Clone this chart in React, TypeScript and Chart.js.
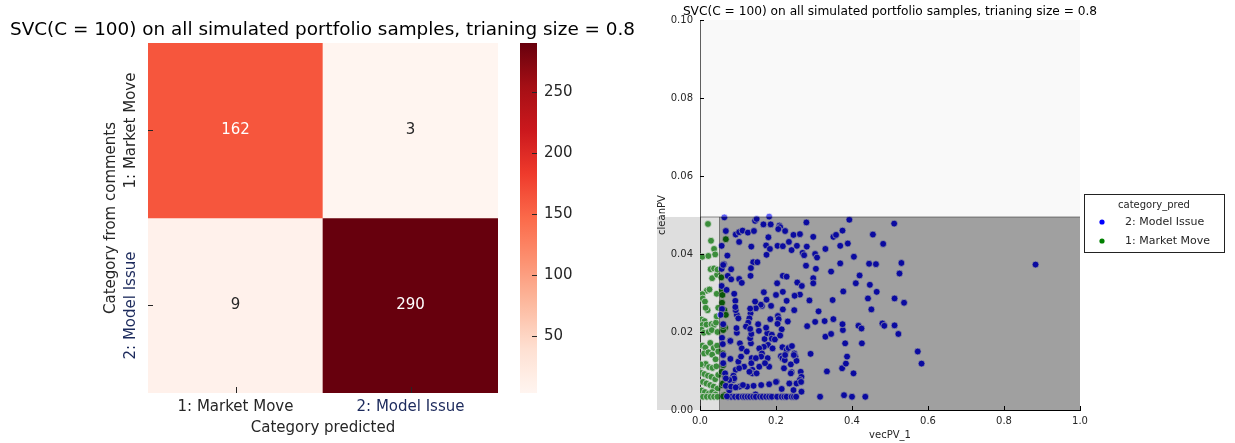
import React, { useEffect, useRef } from 'react';
import { Chart, registerables } from 'chart.js';

Chart.register(...registerables);

const FONT = "'DejaVu Sans', sans-serif";
const INK = '#262626';
const NAVY = '#1c2a5c';

// ---------- left panel: confusion matrix ----------
const heatTitle = 'SVC(C = 100) on all simulated portfolio samples, trianing size = 0.8';
const predictedLabels = ['1: Market Move', '2: Model Issue'];
const actualLabels = ['1: Market Move', '2: Model Issue'];
const countsActualMarketMove = [162, 3];
const countsActualModelIssue = [9, 290];
const colorbarTicks = [50, 100, 150, 200, 250];
const heatXTitle = 'Category predicted';
const heatYTitle = 'Category from comments';

// ---------- right panel: scatter ----------
const scatterTitle = 'SVC(C = 100) on all simulated portfolio samples, trianing size = 0.8';
const scatterXTitle = 'vecPV_1';
const scatterYTitle = 'cleanPV';
const legendTitle = 'category_pred';
const scatterXTicks = [0, 0.2, 0.4, 0.6, 0.8, 1.0];
const scatterYTicks = [0, 0.02, 0.04, 0.06, 0.08, 0.1];
const boundaryVecPV = 0.05;
const boundaryCleanPV = 0.0495;
const seriesLabels = ['2: Model Issue', '1: Market Move'];

const modelIssuePoints: [number, number][] = [
  [0.064, 0.0494], [0.182, 0.0496], [0.145, 0.0485], [0.149, 0.049], [0.167, 0.0476], [0.186, 0.0476], [0.209, 0.0473], [0.211, 0.0469], [0.280, 0.0481], [0.393, 0.0488], [0.511, 0.0478],
  [0.068, 0.0459], [0.094, 0.0450], [0.103, 0.0456], [0.112, 0.0460], [0.126, 0.0455], [0.142, 0.0459], [0.180, 0.0443], [0.206, 0.0464], [0.224, 0.0459], [0.246, 0.0449], [0.263, 0.0451], [0.298, 0.0444], [0.351, 0.0444], [0.358, 0.0449], [0.375, 0.0460], [0.455, 0.0450],
  [0.057, 0.0421], [0.103, 0.0431], [0.135, 0.0419], [0.174, 0.0422], [0.184, 0.0413], [0.204, 0.0421], [0.218, 0.0420], [0.234, 0.0431], [0.241, 0.0410], [0.255, 0.0421], [0.270, 0.0403], [0.274, 0.0397], [0.281, 0.0419], [0.303, 0.0400], [0.308, 0.0391], [0.330, 0.0413], [0.369, 0.0421], [0.389, 0.0427], [0.405, 0.0393], [0.482, 0.0426],
  [0.072, 0.0396], [0.140, 0.0379], [0.151, 0.0379], [0.175, 0.0398], [0.063, 0.0374], [0.082, 0.0361], [0.073, 0.0344], [0.057, 0.0362], [0.134, 0.0364], [0.203, 0.0325], [0.218, 0.0344], [0.228, 0.0342], [0.103, 0.0336], [0.110, 0.0326], [0.082, 0.0335], [0.133, 0.0344], [0.256, 0.0327], [0.268, 0.0318], [0.298, 0.0338], [0.298, 0.0325], [0.305, 0.0362], [0.345, 0.0355], [0.369, 0.0376], [0.410, 0.0325], [0.420, 0.0345], [0.445, 0.0375], [0.463, 0.0374], [0.447, 0.0321], [0.465, 0.0303], [0.442, 0.0286], [0.451, 0.0258], [0.530, 0.0377], [0.525, 0.0350], [0.512, 0.0286], [0.537, 0.0275], [0.883, 0.0373], [0.279, 0.0370],
  [0.377, 0.0304], [0.349, 0.0282], [0.312, 0.0253], [0.288, 0.0281], [0.263, 0.0296], [0.249, 0.0293], [0.248, 0.0256], [0.200, 0.0295], [0.218, 0.0303], [0.218, 0.0258], [0.205, 0.0241], [0.207, 0.0233], [0.204, 0.0221], [0.215, 0.0207], [0.231, 0.0227], [0.185, 0.0233], [0.187, 0.0267], [0.175, 0.0283], [0.168, 0.0302], [0.163, 0.0267], [0.160, 0.0270], [0.147, 0.0261], [0.133, 0.0248], [0.132, 0.0260], [0.145, 0.0278], [0.130, 0.0235], [0.127, 0.0224], [0.121, 0.0214], [0.097, 0.0244], [0.093, 0.0280], [0.090, 0.0298], [0.094, 0.0256], [0.101, 0.0235], [0.097, 0.0198], [0.079, 0.0177], [0.105, 0.0171], [0.110, 0.0158], [0.101, 0.0124], [0.094, 0.0103], [0.088, 0.0088], [0.088, 0.0077], [0.077, 0.0050], [0.104, 0.0060], [0.124, 0.0060], [0.116, 0.0111], [0.123, 0.0150], [0.136, 0.0133], [0.135, 0.0120], [0.138, 0.0103], [0.138, 0.0094], [0.149, 0.0094], [0.156, 0.0111], [0.161, 0.0064], [0.182, 0.0066], [0.182, 0.0111], [0.178, 0.0133], [0.179, 0.0167], [0.191, 0.0158], [0.170, 0.0182], [0.168, 0.0162], [0.156, 0.0158], [0.134, 0.0171], [0.132, 0.0184], [0.135, 0.0195], [0.132, 0.0208], [0.153, 0.0220], [0.155, 0.0203], [0.177, 0.0197], [0.189, 0.0193], [0.189, 0.0183], [0.197, 0.0181], [0.174, 0.0211], [0.217, 0.0161], [0.228, 0.0154], [0.233, 0.0159], [0.242, 0.0164], [0.213, 0.0138], [0.217, 0.0133], [0.223, 0.0128], [0.239, 0.0117], [0.248, 0.0145], [0.251, 0.0137], [0.254, 0.0126], [0.265, 0.0098], [0.267, 0.0085], [0.263, 0.0077], [0.254, 0.0068], [0.235, 0.0068], [0.215, 0.0054], [0.241, 0.0097], [0.202, 0.0073], [0.171, 0.0120], [0.163, 0.0145], [0.161, 0.0137], [0.147, 0.0133], [0.108, 0.0137], [0.103, 0.0107], [0.090, 0.0081], [0.077, 0.0077], [0.130, 0.0098], [0.146, 0.0040],
  [0.224, 0.0141], [0.247, 0.0141], [0.221, 0.0107], [0.239, 0.0094], [0.246, 0.0051], [0.267, 0.0047],
  [0.073, 0.0034], [0.082, 0.0034], [0.092, 0.0034], [0.101, 0.0034], [0.112, 0.0034], [0.118, 0.0034], [0.125, 0.0034], [0.132, 0.0034], [0.140, 0.0034], [0.147, 0.0034], [0.158, 0.0034], [0.165, 0.0034], [0.174, 0.0034], [0.182, 0.0034], [0.189, 0.0034], [0.203, 0.0034], [0.215, 0.0034], [0.222, 0.0034], [0.228, 0.0034], [0.241, 0.0034], [0.247, 0.0034], [0.253, 0.0034], [0.316, 0.0034], [0.379, 0.0038], [0.400, 0.0034], [0.435, 0.0034],
  [0.334, 0.0099], [0.404, 0.0094], [0.374, 0.0107], [0.384, 0.0119], [0.387, 0.0137], [0.382, 0.0171], [0.426, 0.0171], [0.330, 0.0188], [0.345, 0.0195], [0.376, 0.0205], [0.375, 0.0220], [0.417, 0.0216], [0.425, 0.0209], [0.480, 0.0222], [0.485, 0.0216], [0.512, 0.0217], [0.522, 0.0195], [0.573, 0.0150], [0.583, 0.0119], [0.328, 0.0228], [0.351, 0.0233], [0.303, 0.0226], [0.282, 0.0215], [0.291, 0.0144], [0.228, 0.0280], [0.211, 0.0191],
  [0.061, 0.0372], [0.057, 0.0318], [0.058, 0.0259], [0.054, 0.0244], [0.061, 0.0220], [0.058, 0.0185], [0.060, 0.0169], [0.061, 0.0141], [0.061, 0.0120], [0.066, 0.0094], [0.068, 0.0081], [0.071, 0.0060], [0.071, 0.0035], [0.070, 0.0308], [0.093, 0.0264], [0.096, 0.0210], [0.080, 0.0177], [0.080, 0.0131],
  [0.068, 0.0062], [0.082, 0.0060], [0.094, 0.0058], [0.113, 0.0064], [0.141, 0.0062], [0.200, 0.0072], [0.266, 0.0072],
];

const marketMovePoints: [number, number][] = [
  [0.021, 0.0477], [0.029, 0.0434], [0.037, 0.0413], [0.040, 0.0399], [0.006, 0.0393], [0.022, 0.0395], [0.028, 0.0361], [0.037, 0.0363], [0.032, 0.0338], [0.018, 0.0306], [0.025, 0.0309], [0.006, 0.0297], [0.007, 0.0286], [0.013, 0.0278], [0.020, 0.0256], [0.015, 0.0262], [0.004, 0.0232], [0.012, 0.0228], [0.006, 0.0218], [0.017, 0.0219], [0.030, 0.0220], [0.037, 0.0218], [0.042, 0.0224], [0.004, 0.0206], [0.010, 0.0198], [0.023, 0.0200], [0.031, 0.0205], [0.006, 0.0165], [0.014, 0.0160], [0.027, 0.0172], [0.036, 0.0159], [0.045, 0.0165], [0.011, 0.0145], [0.022, 0.0148], [0.032, 0.0142], [0.041, 0.0130], [0.006, 0.0115], [0.015, 0.0118], [0.024, 0.0110], [0.033, 0.0108], [0.043, 0.0112], [0.003, 0.0095], [0.012, 0.0092], [0.021, 0.0088], [0.030, 0.0085], [0.040, 0.0079], [0.008, 0.0072], [0.017, 0.0068], [0.027, 0.0064], [0.036, 0.0060], [0.046, 0.0055], [0.004, 0.0050], [0.013, 0.0046], [0.023, 0.0042], [0.032, 0.0046], [0.041, 0.0040], [0.008, 0.0034], [0.018, 0.0034], [0.028, 0.0034], [0.037, 0.0034], [0.046, 0.0034], [0.002, 0.0117], [0.048, 0.0262], [0.044, 0.0298], [0.045, 0.0347], [0.046, 0.0360], [0.046, 0.0200], [0.044, 0.0240], [0.048, 0.0150], [0.048, 0.0090],
  [0.068, 0.0438], [0.057, 0.0308], [0.059, 0.0295], [0.064, 0.0256], [0.068, 0.0244], [0.066, 0.0211], [0.061, 0.0205], [0.061, 0.0115], [0.057, 0.0098], [0.066, 0.0085], [0.057, 0.0064], [0.064, 0.0038], [0.075, 0.0038], [0.061, 0.0215], [0.060, 0.0145], [0.060, 0.0068], [0.061, 0.0035], [0.056, 0.0340], [0.058, 0.0275],
];

// ---------- colour helpers ----------
const REDS = [
  [255, 245, 240], [254, 224, 210], [252, 187, 161], [252, 146, 114], [251, 106, 74],
  [239, 59, 44], [203, 24, 29], [165, 15, 21], [103, 0, 13],
];
function redsRGB(t: number): number[] {
  const c = Math.max(0, Math.min(1, t)) * (REDS.length - 1);
  const i = Math.min(REDS.length - 2, Math.floor(c));
  const f = c - i;
  const a = REDS[i];
  const b = REDS[i + 1];
  return [0, 1, 2].map((k) => Math.round(a[k] + (b[k] - a[k]) * f));
}
const rgbStr = (c: number[]) => `rgb(${c[0]},${c[1]},${c[2]})`;
function luminance(c: number[]) {
  const lin = c.map((v) => {
    const s = v / 255;
    return s <= 0.03928 ? s / 12.92 : Math.pow((s + 0.055) / 1.055, 2.4);
  });
  return 0.2126 * lin[0] + 0.7152 * lin[1] + 0.0722 * lin[2];
}

const allCounts = [...countsActualMarketMove, ...countsActualModelIssue];
const vmin = Math.min(...allCounts);
const vmax = Math.max(...allCounts);
const countRows = [countsActualMarketMove, countsActualModelIssue];

const labelColor = (label: string) => (label.startsWith('2') ? NAVY : INK);

export default function App() {
  const heatRef = useRef<HTMLCanvasElement>(null);
  const barRef = useRef<HTMLCanvasElement>(null);
  const scatRef = useRef<HTMLCanvasElement>(null);

  useEffect(() => {
    const charts: Chart[] = [];

    // ----- heatmap -----
    const heatPlugin = {
      id: 'heatText',
      afterDatasetsDraw(chart: any) {
        const { ctx, chartArea, scales } = chart;
        ctx.save();
        ctx.textAlign = 'center';
        ctx.textBaseline = 'middle';
        ctx.font = `15px ${FONT}`;
        chart.data.datasets.forEach((ds: any, i: number) => {
          const meta = chart.getDatasetMeta(i);
          meta.data.forEach((el: any, j: number) => {
            const v = ds.counts[j];
            const col = redsRGB((v - vmin) / (vmax - vmin));
            const p = el.getCenterPoint();
            ctx.fillStyle = luminance(col) > 0.408 ? INK : '#ffffff';
            ctx.fillText(String(v), p.x, p.y);
          });
        });
        const ys = scales.y;
        const xs = scales.x;
        ctx.strokeStyle = INK;
        ctx.lineWidth = 1;
        actualLabels.forEach((lab, r) => {
          const level = actualLabels.length - 1 - r;
          const y = ys.getPixelForValue(level + 0.5);
          ctx.save();
          ctx.translate(chartArea.left - 17, y);
          ctx.rotate(-Math.PI / 2);
          ctx.fillStyle = labelColor(lab);
          ctx.fillText(lab, 0, 0);
          ctx.restore();
          ctx.beginPath();
          ctx.moveTo(chartArea.left, Math.round(y) + 0.5);
          ctx.lineTo(chartArea.left + 5, Math.round(y) + 0.5);
          ctx.stroke();
        });
        predictedLabels.forEach((_, i) => {
          const x = Math.round(xs.getPixelForTick(i)) + 0.5;
          ctx.beginPath();
          ctx.moveTo(x, chartArea.bottom);
          ctx.lineTo(x, chartArea.bottom - 6);
          ctx.stroke();
        });
        ctx.restore();
      },
    };

    if (heatRef.current) {
      charts.push(
        new Chart(heatRef.current, {
          type: 'bar',
          data: {
            labels: predictedLabels,
            datasets: countRows.map((vals, r) => {
              const level = actualLabels.length - 1 - r;
              return {
                label: actualLabels[r],
                data: vals.map(() => [level, level + 1]),
                counts: vals,
                backgroundColor: vals.map((v) => rgbStr(redsRGB((v - vmin) / (vmax - vmin)))),
                borderWidth: 0,
                grouped: false,
                barPercentage: 1,
                categoryPercentage: 1,
              } as any;
            }),
          },
          options: {
            responsive: false,
            animation: false,
            layout: { padding: 0 },
            plugins: {
              legend: { display: false },
              tooltip: { enabled: false },
              title: {
                display: true,
                text: heatTitle,
                color: '#000',
                font: { family: FONT, size: 18.4, weight: 'normal' as any },
                padding: { top: 19, bottom: 1.9 },
              },
            },
            scales: {
              x: {
                type: 'category',
                grid: { display: false, drawTicks: false },
                border: { display: false },
                ticks: {
                  font: { family: FONT, size: 15 },
                  color: (c: any) => labelColor(predictedLabels[c.index] || ''),
                  padding: 5,
                  maxRotation: 0,
                },
                title: {
                  display: true,
                  text: heatXTitle,
                  color: INK,
                  font: { family: FONT, size: 15 },
                  padding: { top: 0, bottom: 6 },
                },
                afterFit: (s: any) => { s.height = 50; },
              },
              y: {
                type: 'linear',
                min: 0,
                max: actualLabels.length,
                grid: { display: false, drawTicks: false },
                border: { display: false },
                ticks: { display: false },
                title: {
                  display: true,
                  text: heatYTitle,
                  color: INK,
                  font: { family: FONT, size: 15 },
                  padding: { top: 102, bottom: 0 },
                },
                afterFit: (s: any) => { s.width = 148; },
              },
              yR: {
                position: 'right',
                grid: { display: false, drawTicks: false },
                border: { display: false },
                ticks: { display: false },
                afterFit: (s: any) => { s.width = 147; },
              },
            },
          } as any,
          plugins: [heatPlugin],
        })
      );
    }

    // ----- colorbar -----
    const cbPlugin = {
      id: 'cbTicks',
      afterDatasetsDraw(chart: any) {
        const { ctx, chartArea, scales } = chart;
        ctx.save();
        ctx.strokeStyle = INK;
        ctx.lineWidth = 1;
        colorbarTicks.forEach((v) => {
          const y = Math.round(scales.y.getPixelForValue(v)) + 0.5;
          ctx.beginPath();
          ctx.moveTo(chartArea.right - 5, y);
          ctx.lineTo(chartArea.right, y);
          ctx.stroke();
        });
        ctx.restore();
      },
    };
    if (barRef.current) {
      charts.push(
        new Chart(barRef.current, {
          type: 'bar',
          data: {
            labels: [''],
            datasets: [
              {
                data: [[vmin, vmax]],
                backgroundColor: (c: any) => {
                  const area = c.chart.chartArea;
                  if (!area) return rgbStr(REDS[4]);
                  const g = c.chart.ctx.createLinearGradient(0, area.bottom, 0, area.top);
                  for (let k = 0; k <= 32; k++) g.addColorStop(k / 32, rgbStr(redsRGB(k / 32)));
                  return g;
                },
                borderWidth: 0,
                barPercentage: 1,
                categoryPercentage: 1,
              } as any,
            ],
          },
          options: {
            responsive: false,
            animation: false,
            layout: { padding: { left: 20, right: 43, top: 43, bottom: 50 } },
            plugins: { legend: { display: false }, tooltip: { enabled: false } },
            scales: {
              x: { display: false },
              y: {
                position: 'right',
                min: vmin,
                max: vmax,
                afterBuildTicks: (s: any) => { s.ticks = colorbarTicks.map((value) => ({ value })); },
                grid: { display: false, drawTicks: false },
                border: { display: false },
                ticks: { font: { family: FONT, size: 15 }, color: INK, padding: 7 },
                afterFit: (s: any) => { s.width = 40; },
              },
            },
          } as any,
          plugins: [cbPlugin],
        })
      );
    }

    // ----- scatter -----
    const regionPlugin = {
      id: 'regions',
      beforeDraw(chart: any) {
        const { ctx, chartArea, scales } = chart;
        const top = scales.y.getPixelForValue(boundaryCleanPV);
        const bottom = scales.y.getPixelForValue(0);
        ctx.save();
        ctx.fillStyle = '#dedede';
        ctx.fillRect(chartArea.left - 43, top, 43, bottom - top);
        ctx.restore();
      },
      afterDatasetsDraw(chart: any) {
        const { ctx, scales } = chart;
        const px = (v: number) => scales.x.getPixelForValue(v);
        const py = (v: number) => scales.y.getPixelForValue(v);
        const x0 = px(0), x1 = px(1), xb = px(boundaryVecPV);
        const y0 = py(0), yTop = py(0.1), yb = py(boundaryCleanPV);
        ctx.save();
        ctx.fillStyle = 'rgba(240,240,240,0.4)';
        ctx.fillRect(x0, yTop, x1 - x0, yb - yTop);
        ctx.fillStyle = 'rgba(166,166,166,0.35)';
        ctx.fillRect(x0, yb, xb - x0, y0 - yb);
        ctx.fillStyle = 'rgba(24,24,24,0.41)';
        ctx.fillRect(xb, yb, x1 - xb, y0 - yb);
        ctx.strokeStyle = 'rgba(40,40,40,0.35)';
        ctx.lineWidth = 1.5;
        ctx.beginPath();
        ctx.moveTo(x0, yb);
        ctx.lineTo(x1, yb);
        ctx.stroke();
        ctx.lineWidth = 1;
        ctx.beginPath();
        ctx.moveTo(Math.round(xb) + 0.5, yb);
        ctx.lineTo(Math.round(xb) + 0.5, y0);
        ctx.stroke();
        ctx.restore();
      },
      afterDraw(chart: any) {
        const { ctx, chartArea, scales } = chart;
        ctx.save();
        ctx.strokeStyle = '#000';
        ctx.lineWidth = 1;
        scatterXTicks.forEach((v) => {
          const x = Math.round(scales.x.getPixelForValue(v)) + 0.5;
          ctx.beginPath();
          ctx.moveTo(x, chartArea.bottom);
          ctx.lineTo(x, chartArea.bottom - 4);
          ctx.stroke();
        });
        scatterYTicks.forEach((v) => {
          const y = Math.round(scales.y.getPixelForValue(v)) + 0.5;
          ctx.beginPath();
          ctx.moveTo(chartArea.left, y);
          ctx.lineTo(chartArea.left + 4, y);
          ctx.stroke();
        });
        // legend
        const L = Math.round(chartArea.right) + 4;
        const T = 194;
        const W = 140;
        const H = 58;
        ctx.fillStyle = '#ffffff';
        ctx.fillRect(L, T, W, H);
        ctx.strokeStyle = '#222';
        ctx.strokeRect(L + 0.5, T + 0.5, W, H);
        ctx.fillStyle = INK;
        ctx.textAlign = 'center';
        ctx.textBaseline = 'middle';
        ctx.font = `10px ${FONT}`;
        ctx.fillText(legendTitle, L + W / 2, T + 11);
        chart.data.datasets.forEach((ds: any, i: number) => {
          const y = T + 28 + i * 19;
          ctx.fillStyle = ds.legendColor;
          ctx.beginPath();
          ctx.arc(L + 18, y, 2.6, 0, Math.PI * 2);
          ctx.fill();
          ctx.fillStyle = INK;
          ctx.textAlign = 'left';
          ctx.font = `11px ${FONT}`;
          ctx.fillText(ds.label, L + 41, y);
        });
        ctx.restore();
      },
    };

    const pointStyle = (color: string) => ({
      backgroundColor: color,
      borderColor: '#ffffff',
      pointBackgroundColor: color,
      pointBorderColor: '#ffffff',
      pointBorderWidth: 0.7,
      pointRadius: 3.4,
      legendColor: color,
    });

    if (scatRef.current) {
      charts.push(
        new Chart(scatRef.current, {
          type: 'scatter',
          data: {
            datasets: [
              {
                label: seriesLabels[0],
                data: modelIssuePoints.map(([x, y]) => ({ x, y })),
                ...pointStyle('#0000ff'),
              } as any,
              {
                label: seriesLabels[1],
                data: marketMovePoints.map(([x, y]) => ({ x, y })),
                ...pointStyle('#008000'),
              } as any,
            ],
          },
          options: {
            responsive: false,
            animation: false,
            layout: { padding: 0 },
            plugins: {
              legend: { display: false },
              tooltip: { enabled: false },
              title: {
                display: true,
                text: scatterTitle,
                color: '#000',
                font: { family: FONT, size: 12.2, weight: 'normal' as any },
                padding: { top: 4.7, bottom: 0.7 },
              },
            },
            scales: {
              x: {
                type: 'linear',
                min: 0,
                max: 1,
                z: 1,
                afterBuildTicks: (s: any) => { s.ticks = scatterXTicks.map((value) => ({ value })); },
                grid: { display: false, drawTicks: false },
                border: { display: true, color: '#000', width: 1 },
                ticks: {
                  font: { family: FONT, size: 10 },
                  color: INK,
                  padding: 5,
                  maxRotation: 0,
                  callback: (v: any) => Number(v).toFixed(1),
                },
                title: {
                  display: true,
                  text: scatterXTitle,
                  color: INK,
                  font: { family: FONT, size: 10 },
                  padding: { top: 0, bottom: 2 },
                },
                afterFit: (s: any) => { s.height = 33; },
              },
              y: {
                type: 'linear',
                min: 0,
                max: 0.1,
                z: 1,
                afterBuildTicks: (s: any) => { s.ticks = scatterYTicks.map((value) => ({ value })); },
                grid: { display: false, drawTicks: false },
                border: { display: true, color: '#000', width: 1 },
                ticks: {
                  font: { family: FONT, size: 10 },
                  color: INK,
                  padding: 7,
                  callback: (v: any) => Number(v).toFixed(2),
                },
                title: {
                  display: true,
                  text: scatterYTitle,
                  color: INK,
                  font: { family: FONT, size: 10 },
                  padding: { top: 111, bottom: 0 },
                },
                afterFit: (s: any) => { s.width = 155; },
              },
              yR: {
                position: 'right',
                grid: { display: false, drawTicks: false },
                border: { display: false },
                ticks: { display: false },
                afterFit: (s: any) => { s.width = 155; },
              },
            },
          } as any,
          plugins: [regionPlugin],
        })
      );
    }

    return () => charts.forEach((c) => c.destroy());
  }, []);

  return (
    <div style={{ position: 'fixed', left: 0, top: 0, width: 1235, height: 443, background: '#ffffff', overflow: 'hidden' }}>
      <canvas ref={heatRef} width={645} height={443} style={{ position: 'absolute', left: 0, top: 0 }} />
      <canvas ref={barRef} width={120} height={443} style={{ position: 'absolute', left: 500, top: 0 }} />
      <canvas ref={scatRef} width={690} height={443} style={{ position: 'absolute', left: 545, top: 0 }} />
    </div>
  );
}
